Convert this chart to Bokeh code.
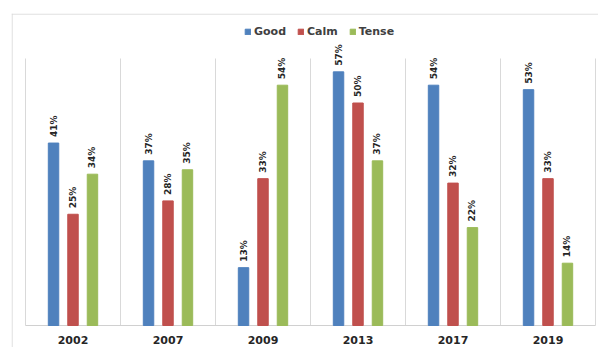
import math
from bokeh.plotting import figure
from bokeh.models import ColumnDataSource, Legend, LegendItem, Span
from bokeh.core.properties import value
from bokeh.embed import file_html
from bokeh.resources import INLINE

years = ["2002", "2007", "2009", "2013", "2017", "2019"]
good = [41, 37, 13, 57, 54, 53]
calm = [25, 28, 33, 50, 32, 33]
tense = [34, 35, 54, 37, 22, 14]
y_top = 60

series = [("Good", good, "#4F81BD", -0.205),
          ("Calm", calm, "#C0504D", 0.0),
          ("Tense", tense, "#9BBB59", 0.205)]

W, H = 598, 347
LEFT, TOP = 11, 13
PX_X = 95.0     # pixels per category
PX_Y = 4.45     # pixels per percent
BASE = 325      # baseline screen y
CAT0 = 25       # screen x of first category start

x0 = -(CAT0 - LEFT) / PX_X
x1 = x0 + (W - LEFT) / PX_X
y0 = -(H - BASE) / PX_Y
y1 = (BASE - TOP) / PX_Y

p = figure(width=W, height=H, output_backend="svg", toolbar_location=None,
           x_range=(x0, x1), y_range=(y0, y1),
           min_border_left=LEFT, min_border_right=0, min_border_top=TOP, min_border_bottom=0)
p.outline_line_color = None
p.background_fill_color = "white"
p.border_fill_color = "white"
p.xaxis.visible = False
p.yaxis.visible = False
p.xgrid.visible = False
p.ygrid.visible = False

# outer chart border (left and top edges visible in the crop)
p.add_layout(Span(location=x0 + 0.6 / PX_X, dimension="height", line_color="#d9d9d9", line_width=1))
p.add_layout(Span(location=y1 - 0.6 / PX_Y, dimension="width", line_color="#d9d9d9", line_width=1))

n = len(years)
# category separators and baseline
p.segment(x0=list(range(n + 1)), y0=[0] * (n + 1), x1=list(range(n + 1)), y1=[y_top] * (n + 1),
          line_color="#d9d9d9", line_width=1)
p.segment(x0=[0], y0=[0], x1=[n], y1=[0], line_color="#d0d0d0", line_width=1)

items = []
for name, vals, color, off in series:
    xs = [i + 0.5 + off for i in range(n)]
    src = ColumnDataSource(dict(x=xs, top=vals, lab=[f"{v}%" for v in vals]))
    r = p.vbar(x="x", top="top", width=0.11, bottom=0, color=color, source=src)
    p.text(x="x", y="top", text="lab", source=src, angle=math.pi / 2,
           text_align="left", text_baseline="middle", y_offset=-6,
           text_font=value("DejaVu Sans"), text_font_style="bold",
           text_font_size="9px", text_color="#262626")
    items.append(LegendItem(label=name, renderers=[r]))

p.text(x=[i + 0.5 for i in range(n)], y=[0] * n, text=years,
       text_align="center", text_baseline="top", y_offset=10,
       text_font=value("DejaVu Sans"), text_font_style="bold",
       text_font_size="11px", text_color="#262626")

legend = Legend(items=items, orientation="horizontal", location=(233, 309),
                glyph_width=7, glyph_height=7, label_standoff=3, spacing=11,
                padding=0, margin=0, border_line_color=None, background_fill_alpha=0,
                label_text_font="DejaVu Sans", label_text_font_style="bold",
                label_text_font_size="11px", label_text_color="#404040",
                label_height=12)
p.add_layout(legend, "center")

open("out.html", "w").write(file_html(p, INLINE))
